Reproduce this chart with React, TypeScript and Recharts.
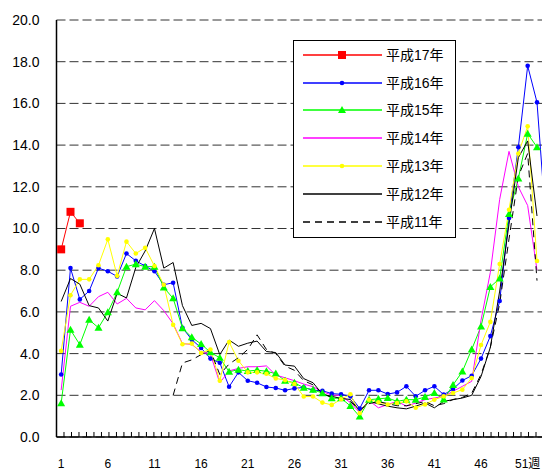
import { LineChart, Line, XAxis, YAxis, CartesianGrid, Legend, ReferenceLine } from "recharts";

const WEEKS = [
  1, 2, 3, 4, 5, 6, 7, 8, 9, 10, 11, 12, 13, 14, 15, 16, 17, 18, 19, 20, 21, 22, 23, 24, 25, 26,
  27, 28, 29, 30, 31, 32, 33, 34, 35, 36, 37, 38, 39, 40, 41, 42, 43, 44, 45, 46, 47, 48, 49, 50,
  51, 52, 53,
];

const H17 = [9.0, 10.8, 10.25];

const H16 = [
  3.0, 8.1, 6.6, 7.0, 8.1, 7.95, 7.7, 8.8, 8.45, 8.2, 7.95, 7.3, 7.4, 5.24, 4.67, 4.27, 3.76, 3.56,
  2.41, 3.1, 2.7, 2.6, 2.4, 2.35, 2.24, 2.33, 2.38, 2.24, 2.22, 2.08, 2.05, 1.95, 1.37, 2.24, 2.24,
  2.06, 2.14, 2.43, 1.95, 2.24, 2.43, 2.03, 2.3, 2.71, 2.94, 3.76, 4.84, 6.52, 10.5, 13.9, 17.8,
  16.05, 10.0,
];

const H15 = [
  1.62, 5.14, 4.43, 5.62, 5.24, 5.98, 6.94, 8.17, 8.29, 8.17, 8.17, 7.17, 6.65, 5.22, 4.78, 4.46,
  4.06, 3.8, 3.13, 3.23, 3.16, 3.21, 3.15, 3.04, 2.7, 2.6, 2.36, 2.27, 2.1, 1.86, 1.86, 1.49, 0.98,
  1.79, 1.83, 1.87, 1.71, 1.79, 1.79, 1.92, 2.11, 1.8, 2.5, 3.14, 4.2, 5.3, 7.2, 7.6, 10.7, 12.4,
  14.55, 13.9,
];

const H14 = [
  2.25, 6.27, 6.46, 6.27, 6.73, 6.94, 6.38, 6.65, 6.19, 6.1, 6.54, 6.06, 5.43, 4.48, 4.44, 4.08,
  3.97, 2.6, 3.17, 3.29, 3.37, 3.37, 3.41, 2.97, 2.84, 2.7, 2.54, 2.41, 2.17, 2.02, 1.98, 1.65, 1.17,
  1.75, 1.4, 1.56, 1.71, 1.48, 1.63, 1.79, 1.87, 1.95, 2.19, 2.43, 2.67, 5.6, 7.9, 11.4, 13.7, 12.0,
  11.1, 8.0,
];

const H13 = [
  4.13, 6.8, 7.56, 7.56, 8.24, 9.48, 7.73, 9.37, 8.8, 9.08, 8.2, 7.3, 5.38, 4.45, 4.48, 4.03, 4.2,
  2.7, 4.55, 3.66, 3.1, 3.1, 3.03, 2.81, 2.73, 2.54, 1.94, 1.94, 1.65, 1.54, 1.81, 2.05, 1.14, 1.79,
  1.67, 1.56, 1.63, 1.71, 1.4, 1.56, 1.79, 1.95, 2.11, 2.27, 2.83, 4.41, 5.52, 8.3, 10.9, 13.6, 14.9,
  8.44,
];

const H12 = [
  6.5, 7.6, 7.33, 6.3, 6.19, 5.56, 6.89, 6.67, 8.13, 8.92, 10.0, 8.1, 8.37, 6.3, 5.35, 5.45, 5.2,
  3.95, 4.65, 4.35, 4.5, 4.6, 4.1, 4.05, 3.45, 3.4, 2.8, 2.6, 2.05, 1.95, 1.85, 1.8, 1.25, 1.71, 1.59,
  1.48, 1.4, 1.35, 1.48, 1.63, 1.4, 1.71, 1.79, 1.87, 2.0, 2.9, 4.3, 7.0, 10.2, 13.4, 14.2, 10.6,
];

const H11 = [
  null, null, null, null, null, null, null, null, null, null, null, null, 2.0, 3.55, 3.7, 3.95, 4.15,
  3.0, 3.5, 3.8, 4.2, 4.9, 4.2, 4.0, 3.4, 3.2, 2.7, 2.5, 2.1, 1.9, 1.8, 1.7, 1.3, 1.6, 1.7, 1.6, 1.5,
  1.5, 1.6, 1.7, 1.5, 1.6, 1.8, 1.9, 2.1, 3.0, 4.3, 6.4, 9.5, 12.5, 13.6, 7.5,
];

const Y_TICKS = [0, 2, 4, 6, 8, 10, 12, 14, 16, 18, 20];
const X_TICKS = [1, 6, 11, 16, 21, 26, 31, 36, 41, 46, 51];

// small tick marks along the bottom axis (66 even steps across the axis)
const MINOR_TICKS = Array.from({ length: 65 }, (_, k) => 0.5 + ((k + 1) * 53) / 66);
const MINOR_TICK_LEN = 0.24; // in y units, about 5px

const SERIES = [
  { key: "h17", name: "平成17年", values: H17, color: "#ff0000", marker: "square", dash: undefined },
  { key: "h16", name: "平成16年", values: H16, color: "#0000ff", marker: "dot", dash: undefined },
  { key: "h15", name: "平成15年", values: H15, color: "#00ff00", marker: "triangle", dash: undefined },
  { key: "h14", name: "平成14年", values: H14, color: "#ff00ff", marker: "none", dash: undefined },
  { key: "h13", name: "平成13年", values: H13, color: "#ffff00", marker: "dot", dash: undefined },
  { key: "h12", name: "平成12年", values: H12, color: "#000000", marker: "none", dash: undefined },
  { key: "h11", name: "平成11年", values: H11, color: "#000000", marker: "none", dash: "7 5" },
];

const data = WEEKS.map((week, i) => {
  const row: Record<string, number | null> = { week };
  SERIES.forEach((s) => {
    const v = s.values[i];
    row[s.key] = v === undefined ? null : v;
  });
  return row;
});

const FONT = "'Liberation Sans', Arial, 'Noto Sans CJK JP', sans-serif";

function Marker({ type, cx, cy, color }: { type: string; cx: number; cy: number; color: string }) {
  if (type === "square") return <rect x={cx - 4} y={cy - 4} width={8} height={8} fill={color} />;
  if (type === "dot") return <circle cx={cx} cy={cy} r={2.3} fill={color} />;
  if (type === "triangle")
    return <polygon points={`${cx},${cy - 4} ${cx - 4},${cy + 3} ${cx + 4},${cy + 3}`} fill={color} />;
  return null;
}

function makeDot(type: string, color: string) {
  return (p: any) => {
    if (p.cx == null || p.cy == null || p.value == null) return <g key={p.key} />;
    return (
      <g key={p.key}>
        <Marker type={type} cx={p.cx} cy={p.cy} color={color} />
      </g>
    );
  };
}

function LegendBox() {
  return (
    <div
      style={{
        width: 163,
        height: 198,
        border: "1px solid #000",
        background: "#fff",
        boxSizing: "border-box",
        fontFamily: FONT,
        fontSize: 14,
        color: "#000",
      }}
    >
      {SERIES.map((s) => (
        <div key={s.key} style={{ display: "flex", alignItems: "center", height: 27.8 }}>
          <svg width={79} height={10} style={{ marginLeft: 9, display: "block" }}>
            <line x1={0} y1={5} x2={79} y2={5} stroke={s.color} strokeWidth={1.5} strokeDasharray={s.dash} />
            <Marker type={s.marker} cx={39} cy={5} color={s.color} />
          </svg>
          <span style={{ marginLeft: 4, lineHeight: "16px" }}>{s.name}</span>
        </div>
      ))}
    </div>
  );
}

export default function App() {
  return (
    <div
      style={{
        position: "absolute",
        left: 0,
        top: 0,
        width: 542,
        height: 471,
        overflow: "hidden",
        background: "#fff",
        fontFamily: FONT,
      }}
    >
      <LineChart width={560} height={471} data={data} margin={{ top: 20, right: 9, left: 0, bottom: 4 }}>
        <CartesianGrid vertical={false} stroke="#333" strokeDasharray="9 4" />
        <XAxis
          dataKey="week"
          type="number"
          domain={[0.5, 53.5]}
          ticks={X_TICKS}
          interval={0}
          height={30}
          tickSize={0}
          tickMargin={22}
          axisLine={{ stroke: "#000", strokeWidth: 1.5 }}
          tick={{ fill: "#000", fontSize: 12 }}
          tickFormatter={(v: number) => (v === 51 ? "51週" : String(v))}
          allowDataOverflow
        />
        <YAxis
          width={56.5}
          domain={[0, 20]}
          ticks={Y_TICKS}
          interval={0}
          tickSize={0}
          tickMargin={17}
          axisLine={{ stroke: "#000", strokeWidth: 1.5 }}
          tick={{ fill: "#000", fontSize: 14 }}
          tickFormatter={(v: number) => v.toFixed(1)}
          allowDataOverflow
        />
        {MINOR_TICKS.map((t) => (
          <ReferenceLine
            key={t}
            segment={[
              { x: t, y: 0 },
              { x: t, y: MINOR_TICK_LEN },
            ]}
            stroke="#000"
            strokeWidth={1}
            ifOverflow="visible"
          />
        ))}
        <Legend
          layout="vertical"
          align="center"
          verticalAlign="middle"
          content={() => <LegendBox />}
          wrapperStyle={{ left: 293, top: 40, width: 163, height: 198 }}
        />
        {SERIES.map((s) => (
          <Line
            key={s.key}
            dataKey={s.key}
            name={s.name}
            stroke={s.color}
            strokeWidth={1}
            strokeDasharray={s.dash}
            dot={s.marker === "none" ? false : makeDot(s.marker, s.color)}
            activeDot={false}
            isAnimationActive={false}
            connectNulls={false}
          />
        ))}
      </LineChart>
    </div>
  );
}
